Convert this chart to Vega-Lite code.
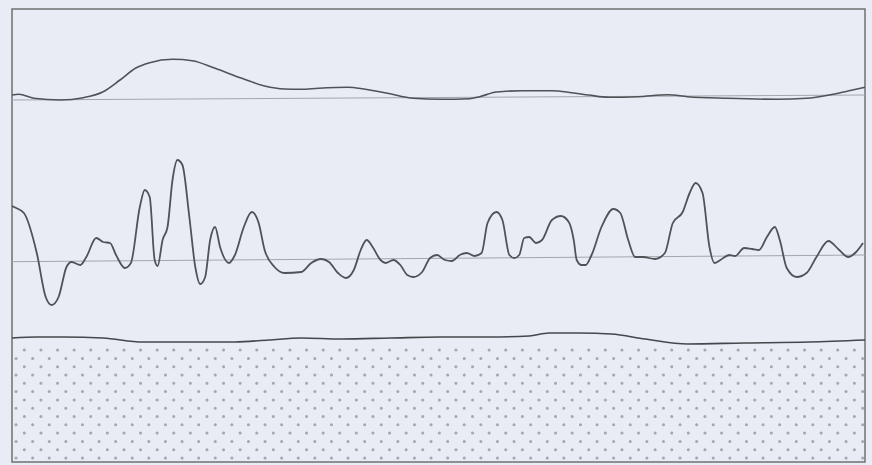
{
  "$schema": "https://vega.github.io/schema/vega-lite/v6.json",
  "width": 872,
  "height": 465,
  "autosize": {"type": "fit", "contains": "padding"},
  "padding": {"left": 8, "top": 9, "right": 3, "bottom": 3},
  "background": "#e9ecf4",
  "config": {"view": {"stroke": "#707070", "strokeWidth": 1.5}},
  "datasets": {
    "top": [
      {"x": 0, "y": 367}, {"x": 7, "y": 367.7}, {"x": 22, "y": 363.7}, {"x": 49, "y": 362}, {"x": 72, "y": 364.3},
      {"x": 92, "y": 370.3}, {"x": 109, "y": 382}, {"x": 125, "y": 394}, {"x": 139, "y": 399.3}, {"x": 162, "y": 402.7},
      {"x": 182, "y": 401.3}, {"x": 205, "y": 393.7}, {"x": 232, "y": 383.7}, {"x": 255, "y": 376}, {"x": 275, "y": 373},
      {"x": 292, "y": 372.7}, {"x": 309, "y": 373.7}, {"x": 339, "y": 374.7}, {"x": 355, "y": 373}, {"x": 379, "y": 368.7},
      {"x": 405, "y": 363.7}, {"x": 432, "y": 362.7}, {"x": 462, "y": 363.3}, {"x": 472, "y": 365.3}, {"x": 489, "y": 370},
      {"x": 515, "y": 371.3}, {"x": 545, "y": 371.3}, {"x": 565, "y": 369.3}, {"x": 582, "y": 367}, {"x": 602, "y": 364.7},
      {"x": 632, "y": 365.3}, {"x": 662, "y": 367.3}, {"x": 682, "y": 365.3}, {"x": 722, "y": 363.7}, {"x": 772, "y": 362.7},
      {"x": 802, "y": 363.7}, {"x": 825, "y": 367}, {"x": 845, "y": 371.3}, {"x": 861, "y": 374.7}
    ],
    "mid": [
      {"x": 0, "y": 256}, {"x": 2, "y": 255}, {"x": 12, "y": 249}, {"x": 25, "y": 209}, {"x": 34, "y": 165}, {"x": 40, "y": 157},
      {"x": 47, "y": 165}, {"x": 55, "y": 195}, {"x": 60, "y": 200}, {"x": 69, "y": 197}, {"x": 75, "y": 205},
      {"x": 85, "y": 224}, {"x": 92, "y": 220}, {"x": 99, "y": 219}, {"x": 105, "y": 207}, {"x": 114, "y": 194},
      {"x": 120, "y": 199}, {"x": 129, "y": 255}, {"x": 134, "y": 272}, {"x": 139, "y": 265}, {"x": 144, "y": 202},
      {"x": 147, "y": 196}, {"x": 152, "y": 222}, {"x": 157, "y": 235}, {"x": 162, "y": 282}, {"x": 167, "y": 302},
      {"x": 172, "y": 297}, {"x": 179, "y": 245}, {"x": 185, "y": 195}, {"x": 190, "y": 178}, {"x": 195, "y": 185},
      {"x": 200, "y": 222}, {"x": 205, "y": 235}, {"x": 210, "y": 215}, {"x": 219, "y": 199}, {"x": 225, "y": 207},
      {"x": 234, "y": 235}, {"x": 242, "y": 250}, {"x": 249, "y": 239}, {"x": 255, "y": 212}, {"x": 265, "y": 195},
      {"x": 275, "y": 189}, {"x": 292, "y": 190}, {"x": 302, "y": 199}, {"x": 312, "y": 203}, {"x": 320, "y": 200},
      {"x": 329, "y": 189}, {"x": 337, "y": 184}, {"x": 345, "y": 192}, {"x": 352, "y": 212}, {"x": 358, "y": 222},
      {"x": 364, "y": 215}, {"x": 372, "y": 202}, {"x": 377, "y": 199}, {"x": 385, "y": 202}, {"x": 392, "y": 197},
      {"x": 399, "y": 187}, {"x": 405, "y": 185}, {"x": 414, "y": 190}, {"x": 422, "y": 204}, {"x": 429, "y": 207},
      {"x": 437, "y": 202}, {"x": 444, "y": 201}, {"x": 452, "y": 207}, {"x": 459, "y": 209}, {"x": 467, "y": 206},
      {"x": 474, "y": 209}, {"x": 480, "y": 239}, {"x": 489, "y": 250}, {"x": 495, "y": 242}, {"x": 502, "y": 207},
      {"x": 507, "y": 204}, {"x": 512, "y": 207}, {"x": 517, "y": 224}, {"x": 522, "y": 225}, {"x": 529, "y": 219},
      {"x": 535, "y": 222}, {"x": 545, "y": 242}, {"x": 554, "y": 246}, {"x": 562, "y": 240}, {"x": 567, "y": 222},
      {"x": 570, "y": 202}, {"x": 575, "y": 197}, {"x": 579, "y": 197}, {"x": 585, "y": 207}, {"x": 595, "y": 235},
      {"x": 607, "y": 253}, {"x": 614, "y": 249}, {"x": 622, "y": 222}, {"x": 629, "y": 205}, {"x": 637, "y": 205},
      {"x": 649, "y": 203}, {"x": 659, "y": 209}, {"x": 667, "y": 239}, {"x": 677, "y": 250}, {"x": 684, "y": 269},
      {"x": 690, "y": 279}, {"x": 697, "y": 269}, {"x": 704, "y": 215}, {"x": 709, "y": 199}, {"x": 715, "y": 202},
      {"x": 724, "y": 207}, {"x": 730, "y": 206}, {"x": 739, "y": 214}, {"x": 747, "y": 213}, {"x": 754, "y": 212},
      {"x": 762, "y": 225}, {"x": 770, "y": 235}, {"x": 775, "y": 222}, {"x": 782, "y": 194}, {"x": 792, "y": 185},
      {"x": 802, "y": 189}, {"x": 812, "y": 205}, {"x": 824, "y": 221}, {"x": 835, "y": 212}, {"x": 844, "y": 205},
      {"x": 852, "y": 210}, {"x": 859, "y": 219}
    ],
    "bot": [
      {"x": 0, "y": 124}, {"x": 25, "y": 125}, {"x": 52, "y": 125}, {"x": 92, "y": 124}, {"x": 132, "y": 120},
      {"x": 185, "y": 120}, {"x": 225, "y": 120}, {"x": 259, "y": 122}, {"x": 292, "y": 124}, {"x": 332, "y": 123},
      {"x": 382, "y": 124}, {"x": 432, "y": 125}, {"x": 482, "y": 125}, {"x": 522, "y": 126}, {"x": 542, "y": 129},
      {"x": 572, "y": 129}, {"x": 605, "y": 128}, {"x": 639, "y": 123}, {"x": 682, "y": 118}, {"x": 739, "y": 119},
      {"x": 805, "y": 120}, {"x": 861, "y": 122}
    ],
    "base": [
      {"series": "top", "x": 0, "y": 362}, {"series": "top", "x": 861, "y": 367},
      {"series": "mid", "x": 0, "y": 200.3}, {"series": "mid", "x": 861, "y": 207}
    ],
    "dotsA": [{"y": 4}, {"y": 20.6}, {"y": 37.2}, {"y": 53.8}, {"y": 70.4}, {"y": 87}, {"y": 103.6}],
    "dotsB": [{"y": 12.3}, {"y": 28.9}, {"y": 45.5}, {"y": 62.1}, {"y": 78.7}, {"y": 95.3}, {"y": 111.9}]
  },
  "encoding": {
    "x": {"field": "x", "type": "quantitative", "scale": {"domain": [0, 861], "nice": false, "zero": false}, "axis": null},
    "y": {"field": "y", "type": "quantitative", "scale": {"domain": [0, 453], "nice": false, "zero": false}, "axis": null}
  },
  "layer": [
    {
      "data": {"name": "dotsA"},
      "mark": {"type": "rule", "clip": true, "color": "#8f929b", "strokeWidth": 3, "strokeCap": "round", "strokeDash": [0.1, 16.5], "strokeDashOffset": -4, "opacity": 0.75},
      "encoding": {"x": {"value": 0}, "x2": {"value": 855}}
    },
    {
      "data": {"name": "dotsB"},
      "mark": {"type": "rule", "clip": true, "color": "#8f929b", "strokeWidth": 3, "strokeCap": "round", "strokeDash": [0.1, 16.5], "strokeDashOffset": 4.3, "opacity": 0.75},
      "encoding": {"x": {"value": 0}, "x2": {"value": 855}}
    },
    {
      "data": {"name": "base"},
      "mark": {"type": "line", "color": "#a3a6ad", "strokeWidth": 1},
      "encoding": {"detail": {"field": "series", "type": "nominal"}}
    },
    {
      "data": {"name": "top"},
      "mark": {"type": "line", "color": "#505257", "strokeWidth": 1.6, "interpolate": "monotone"},
      "encoding": {}
    },
    {
      "data": {"name": "mid"},
      "mark": {"type": "line", "color": "#505257", "strokeWidth": 1.8, "interpolate": "monotone"},
      "encoding": {}
    },
    {
      "data": {"name": "bot"},
      "mark": {"type": "line", "color": "#45474c", "strokeWidth": 1.6, "interpolate": "monotone"},
      "encoding": {}
    }
  ]
}
